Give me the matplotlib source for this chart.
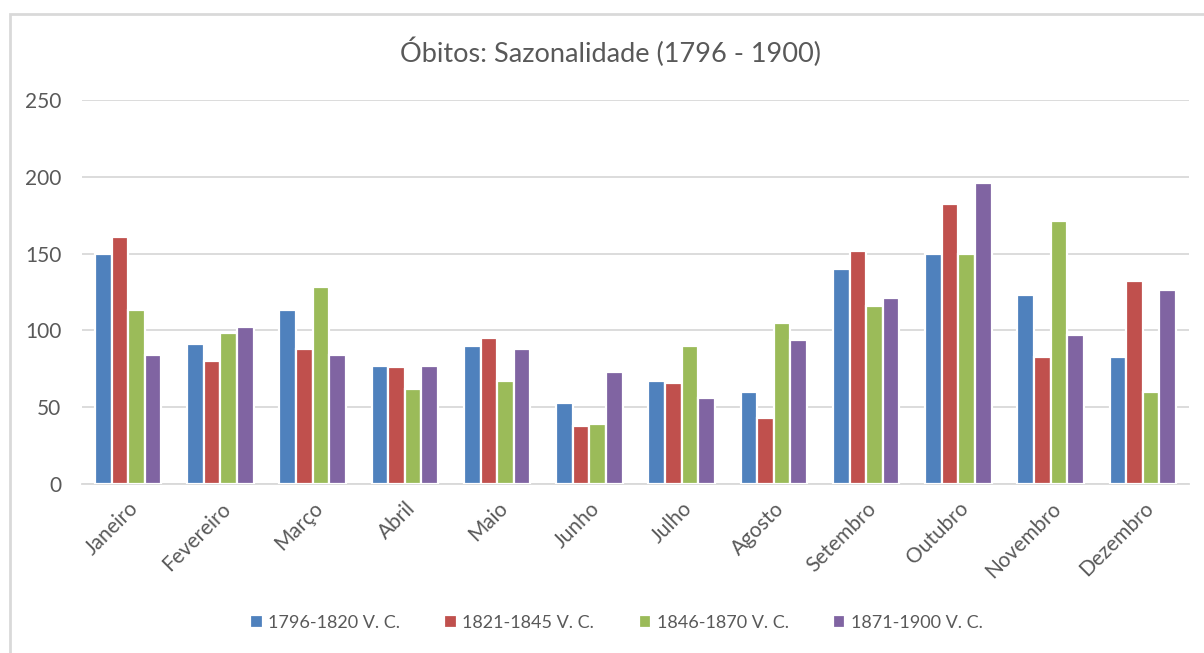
import numpy as np
import matplotlib
matplotlib.use("Agg")
import matplotlib.pyplot as plt
from matplotlib.patches import Rectangle

plt.rcParams['font.family'] = ['Lato', 'DejaVu Sans']

months = ["Janeiro", "Fevereiro", "Março", "Abril", "Maio", "Junho",
          "Julho", "Agosto", "Setembro", "Outubro", "Novembro", "Dezembro"]
series = ["1796-1820 V. C.", "1821-1845 V. C.", "1846-1870 V. C.", "1871-1900 V. C."]
v1796 = [150, 91, 113, 77, 90, 53, 67, 60, 140, 150, 123, 83]
v1821 = [161, 80, 88, 76, 95, 38, 66, 43, 152, 182, 83, 132]
v1846 = [113, 98, 128, 62, 67, 39, 90, 105, 116, 150, 171, 60]
v1871 = [84, 102, 84, 77, 88, 73, 56, 94, 121, 196, 97, 126]
colors = ['#4F81BD', '#C0504D', '#9BBB59', '#8064A2']

fig = plt.figure(figsize=(12.04, 6.53), dpi=100)
# chart frame
fig.patches.append(Rectangle((10/1204, -0.1), 1.2, 1 - 14/653 + 0.1, transform=fig.transFigure,
                             fill=False, edgecolor='#d9d9d9', linewidth=2, zorder=0))
ax = fig.add_axes([82/1204, 1 - 484/653, 1107/1204, 384/653])

x = np.arange(len(months))
slot = 0.18
for k, (vals, c) in enumerate(zip([v1796, v1821, v1846, v1871], colors)):
    ax.bar(x + (k - 1.5) * slot, vals, width=slot, color=c, edgecolor='white',
           linewidth=1.6, label=series[k], zorder=3)

ax.set_xlim(-0.5, len(months) - 0.5)
ax.set_ylim(0, 250)
ax.set_yticks([0, 50, 100, 150, 200, 250])
ax.yaxis.grid(True, color='#d9d9d9', linewidth=1.3, zorder=0)
ax.set_axisbelow(True)
for s in ['top', 'right', 'left']:
    ax.spines[s].set_visible(False)
ax.spines['bottom'].set_color('#d9d9d9')
ax.spines['bottom'].set_linewidth(1.3)
ax.tick_params(axis='both', length=0, colors='#595959', labelsize=15)
ax.tick_params(axis='y', pad=15)
ax.set_xticks(x)
ax.set_xticklabels(months, rotation=45, ha='right', rotation_mode='anchor')
for lab in ax.get_xticklabels():
    lab.set_y(-0.025)

fig.text(610/1204, 1 - 52/653, "Óbitos: Sazonalidade (1796 - 1900)", fontsize=19.5,
         color='#595959', ha='center', va='center')

fig.legend(loc='center', bbox_to_anchor=(0.512, 1 - 623/653), ncol=4, frameon=False,
           fontsize=13, labelcolor='#595959', handlelength=0.7, handleheight=0.7,
           handletextpad=0.3, columnspacing=2.45)

fig.savefig("out.png", dpi=100)
